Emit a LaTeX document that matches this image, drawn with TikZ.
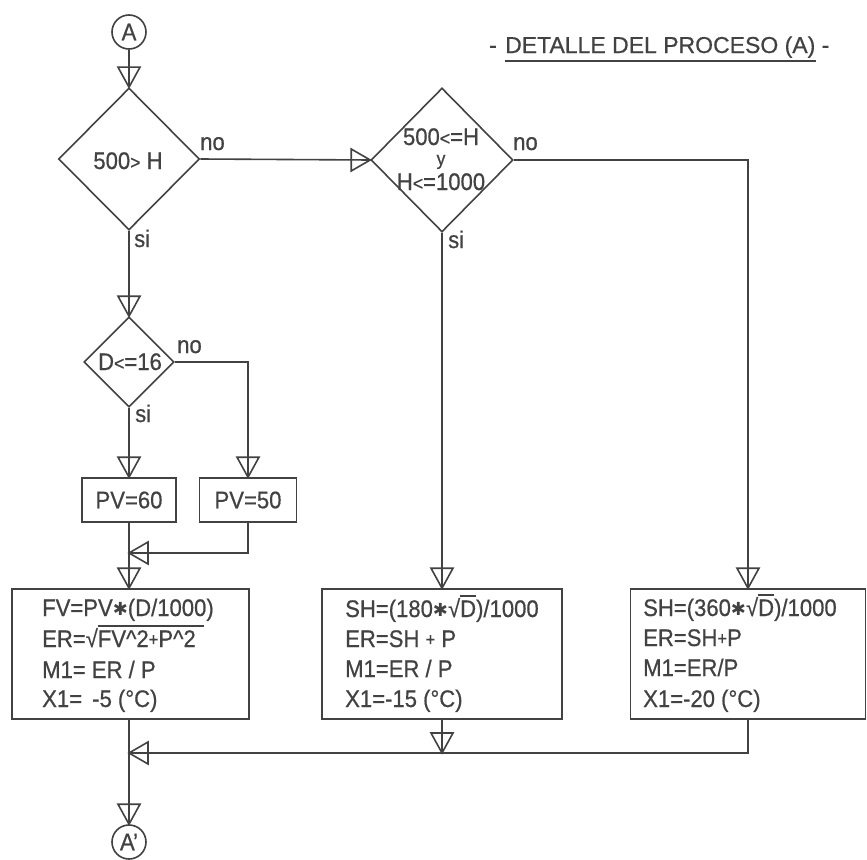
\documentclass[tikz,border=0pt]{standalone}
\usepackage{fontspec}
\setmainfont[FakeStretch=0.92,FakeBold=0.6]{Liberation Sans}
\newfontfamily\ttlfont[FakeBold=0.6]{Liberation Sans}
\newfontfamily\djv{DejaVu Sans}
\usetikzlibrary{shapes.geometric,calc}
\definecolor{ink}{RGB}{66,66,66}
\newcommand\myfs{\fontsize{24}{29}\selectfont}
\newcommand\ttlfs{\ttlfont\fontsize{23}{29}\selectfont}
\newcommand\smgt{\scalebox{0.8}{>}}
\newcommand\smlt{\scalebox{0.8}{<}}
\newcommand\smplus{\raisebox{0.06em}{\scalebox{0.75}{+}}}
\newcommand\hast{\raisebox{0.02em}{{\djv\fontsize{18}{18}\selectfont ✱}}}
\newcommand\mysqrt[2]{√\setbox0\hbox{#1}\rlap{\rule[20pt]{\dimexpr\wd0+#2\relax}{1.6pt}}#1}
\newcommand\tridn[1]{\draw[tri] (#1) -- ++(-11,-20) -- ++(22,0) -- cycle;}
\newcommand\trilf[1]{\draw[tri] (#1) -- ++(19,-11) -- ++(0,22) -- cycle;}
\newcommand\trirt[1]{\draw[tri] (#1) -- ++(-19,-11) -- ++(0,22) -- cycle;}
\begin{document}
\begin{tikzpicture}[x=1pt,y=-1pt,
  every node/.style={text=ink},
  decision/.style={diamond, draw=ink, line width=1.6pt, inner sep=0pt},
  proc/.style={rectangle, draw=ink, line width=1.6pt, inner sep=0pt, font=\myfs},
  conn/.style={circle, draw=ink, line width=1.6pt, minimum size=34pt, inner sep=0pt, font=\myfs},
  txt/.style={inner sep=0pt, font=\myfs, anchor=base west},
  ctxt/.style={inner sep=0pt, font=\myfs, anchor=base},
  flow/.style={draw=ink, line width=1.6pt},
  tri/.style={draw=ink, line width=1.6pt, line join=miter}]
\fill[white] (0,0) rectangle (867,859);
\useasboundingbox (0,0) rectangle (867,859);

% title
\node[inner sep=0pt, font=\ttlfs, anchor=base west] (ttl) at (505,53) {DETALLE DEL PROCESO (A)};
\node[inner sep=0pt, font=\ttlfs, anchor=base east] (tl) at ([xshift=-8pt]ttl.base west) {-};
\node[inner sep=0pt, font=\ttlfs, anchor=base west] (tr) at ([xshift=6pt]ttl.base east) {-};
\draw[flow] ([yshift=-8pt]ttl.base west) -- ([yshift=-8pt]ttl.base east);

% connectors
\node[conn] (A) at (129,32) {A};
\node[conn] (Ap) at (129,842) {A’};

% decisions
\node[decision, minimum width=141pt, minimum height=142pt] (d1) at (129,159) {};
\node[ctxt] (d1t) at (128,169) {500\smgt\ H};
\node[decision, minimum width=142pt, minimum height=144pt] (d2) at (442,160) {};
\node[ctxt] (d2a) at (441,145) {500\smlt=H};
\node[inner sep=0pt, anchor=base, font=\fontsize{19}{19}\selectfont] (d2b) at (441,165) {y};
\node[ctxt] (d2c) at (441,190) {H\smlt=1000};
\node[decision, minimum width=90pt, minimum height=90pt] (d3) at (129,362) {};
\node[ctxt] (d3t) at (130,370) {D\smlt=16};

% labels
\node[txt] (n1) at (200,150) {no};
\node[txt] (s1) at (134,247) {si};
\node[txt] (n2) at (513,150) {no};
\node[txt] (s2) at (448,248) {si};
\node[txt] (n3) at (177,353) {no};
\node[txt] (s3) at (135,422) {si};

% small process boxes
\node[proc, minimum width=94pt, minimum height=44pt] (pv60) at (129,500) {PV=60};
\node[proc, minimum width=97pt, minimum height=44pt] (pv50) at (248,500) {PV=50};

% big boxes
\node[proc, minimum width=237pt, minimum height=130pt] (b1) at (130.5,654) {};
\node[proc, minimum width=240pt, minimum height=130pt] (b2) at (442,654) {};
\node[proc, minimum width=235pt, minimum height=130pt] (b3) at (748,654) {};

\node[txt] (b1a) at (42,616) {FV=PV\hast(D/1000)};
\node[txt] (b1b) at (42,647) {ER=\mysqrt{FV\textasciicircum 2\smplus P\textasciicircum 2}{8pt}};
\node[txt] (b1c) at (42,678) {M1= ER / P};
\node[txt] (b1d) at (42,707) {X1= \,-5 (°C)};

\node[txt] (b2a) at (345,617) {SH=(180\hast\mysqrt{D}{0pt})/1000};
\node[txt] (b2b) at (345,647) {ER=SH \smplus\ P};
\node[txt] (b2c) at (345,677) {M1=ER / P};
\node[txt] (b2d) at (345,707) {X1=-15 (°C)};

\node[txt] (b3a) at (643,616) {SH=(360\hast\mysqrt{D}{0pt})/1000};
\node[txt] (b3b) at (643,646) {ER=SH\smplus P};
\node[txt] (b3c) at (643,676) {M1=ER/P};
\node[txt] (b3d) at (643,707) {X1=-20 (°C)};

% merge points
\coordinate (m1) at (129,553);
\coordinate (m2) at (129,753);

% flow lines
\draw[flow] (A.south) -- (d1.north); \tridn{d1.north}
\draw[flow] (d1.east) -- (d2.west); \trirt{d2.west}
\draw[flow] (d1.south) -- (d3.north); \tridn{d3.north}
\draw[flow] (d3.south) -- (pv60.north); \tridn{pv60.north}
\draw[flow] (d3.east) -| (pv50.north); \tridn{pv50.north}
\draw[flow] (pv60.south) -- (pv60.south |- b1.north); \tridn{pv60.south |- b1.north}
\draw[flow] (pv50.south) |- (m1); \trilf{m1}
\draw[flow] (d2.south) -- (b2.north); \tridn{b2.north}
\draw[flow] (d2.east) -| (b3.north); \tridn{b3.north}
\draw[flow] (A |- b1.south) -- (Ap.north); \tridn{Ap.north}
\draw[flow] (b2.south) -- (b2.south |- m2); \tridn{b2.south |- m2}
\draw[flow] (b3.south) |- (m2); \trilf{m2}
\end{tikzpicture}
\end{document}
